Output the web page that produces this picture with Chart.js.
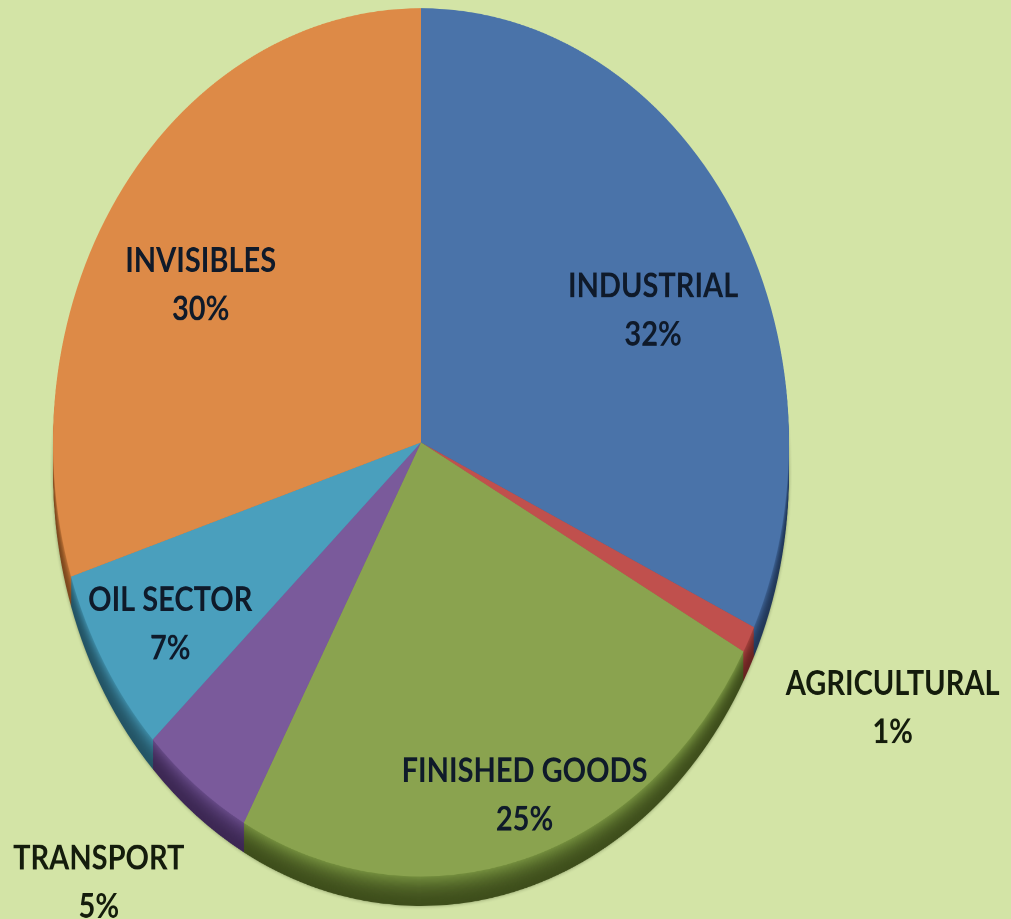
<!DOCTYPE html>
<html>
<head>
<meta charset="utf-8">
<script src="https://cdn.jsdelivr.net/npm/chart.js@4.4.0/dist/chart.umd.min.js"></script>
<style>
  html { overflow: hidden; background: #d3e4a6; }
  body { margin: 0; padding: 0; width: 1011px; height: 919px; background: #d3e4a6; }
  #wrap { width: 1011px; height: 779px; transform: scaleY(1.1797); transform-origin: 0 0; }
</style>
</head>
<body>
<div id="wrap"><canvas id="chart" width="1011" height="779"></canvas></div>
<script>
const categories = ["INDUSTRIAL", "AGRICULTURAL", "FINISHED GOODS", "TRANSPORT", "OIL SECTOR", "INVISIBLES"];
const shares = [32, 1, 25, 5, 7, 30];

const sliceColors = ["#4a73a9", "#c0504d", "#8aa34f", "#7a5a9b", "#4a9fbd", "#dd8a47"];
const sideColors = ["#23395a", "#6a2422", "#3f4f1c", "#3d2854", "#245566", "#7e4a20"];
const rimColors = ["#3d6192", "#a8433f", "#75903f", "#674b88", "#3e8ba6", "#c27538"];

// radial factor (of outer radius) and angle nudge (deg) for each label
const labelPlacement = [
  { r: 0.70, da: 6.7 },
  { r: 1.42, da: -1.5 },
  { r: 0.86, da: -2.9 },
  { r: 1.34, da: 3 },
  { r: 0.80, da: -1 },
  { r: 0.70, da: -4.8 },
];

function hexToRgb(h) {
  const n = parseInt(h.slice(1), 16);
  return [(n >> 16) & 255, (n >> 8) & 255, n & 255];
}

function mix(a, b, t) {
  const ca = hexToRgb(a), cb = hexToRgb(b);
  const c = ca.map((v, k) => Math.round(v + (cb[k] - v) * t));
  return `rgb(${c[0]},${c[1]},${c[2]})`;
}

// dark extruded edge under the pie, shaded from bottom to rim
const pieSide = {
  id: "pieSide",
  beforeDatasetsDraw(chart) {
    const ctx = chart.ctx;
    const arcs = chart.getDatasetMeta(0).data;
    const depth = 25;
    ctx.save();
    for (let dy = depth; dy > 0; dy -= 1) {
      const t = 1 - dy / depth;
      if (dy === depth) {
        ctx.shadowColor = "rgba(30,40,10,0.4)";
        ctx.shadowBlur = 6;
      } else {
        ctx.shadowColor = "transparent";
        ctx.shadowBlur = 0;
      }
      arcs.forEach((arc, i) => {
        const { x, y, startAngle, endAngle, outerRadius } = arc.getProps(
          ["x", "y", "startAngle", "endAngle", "outerRadius"], true);
        ctx.beginPath();
        ctx.moveTo(x, y + dy);
        ctx.arc(x, y + dy, outerRadius, startAngle, endAngle);
        ctx.closePath();
        ctx.fillStyle = mix(sideColors[i], rimColors[i], t * t);
        ctx.fill();
      });
    }
    ctx.restore();
  },
};

const sliceLabels = {
  id: "sliceLabels",
  afterDatasetsDraw(chart) {
    const ctx = chart.ctx;
    const arcs = chart.getDatasetMeta(0).data;
    const lineGap = 41;
    ctx.save();
    ctx.font = "bold 29px Lato";
    ctx.textAlign = "center";
    ctx.textBaseline = "middle";
    arcs.forEach((arc, i) => {
      const { x, y, startAngle, endAngle, outerRadius } = arc.getProps(
        ["x", "y", "startAngle", "endAngle", "outerRadius"], true);
      const p = labelPlacement[i];
      const mid = (startAngle + endAngle) / 2 + (p.da * Math.PI) / 180;
      const cx = x + Math.cos(mid) * outerRadius * p.r;
      const cy = y + Math.sin(mid) * outerRadius * p.r;
      ctx.fillStyle = p.r > 1 ? "#141c0c" : "#0f1a2a";
      ctx.fillText(categories[i], cx, cy - lineGap / 2);
      ctx.fillText(shares[i] + "%", cx, cy + lineGap / 2);
    });
    ctx.restore();
  },
};

new Chart(document.getElementById("chart"), {
  type: "pie",
  data: {
    labels: categories,
    datasets: [
      {
        data: shares,
        backgroundColor: sliceColors,
        borderWidth: 0,
      },
    ],
  },
  options: {
    responsive: false,
    devicePixelRatio: 2,
    animation: false,
    events: [],
    layout: { padding: { left: 53, right: 222, top: 7, bottom: 36 } },
    plugins: {
      legend: { display: false },
      tooltip: { enabled: false },
    },
  },
  plugins: [pieSide, sliceLabels],
});
</script>
</body>
</html>
